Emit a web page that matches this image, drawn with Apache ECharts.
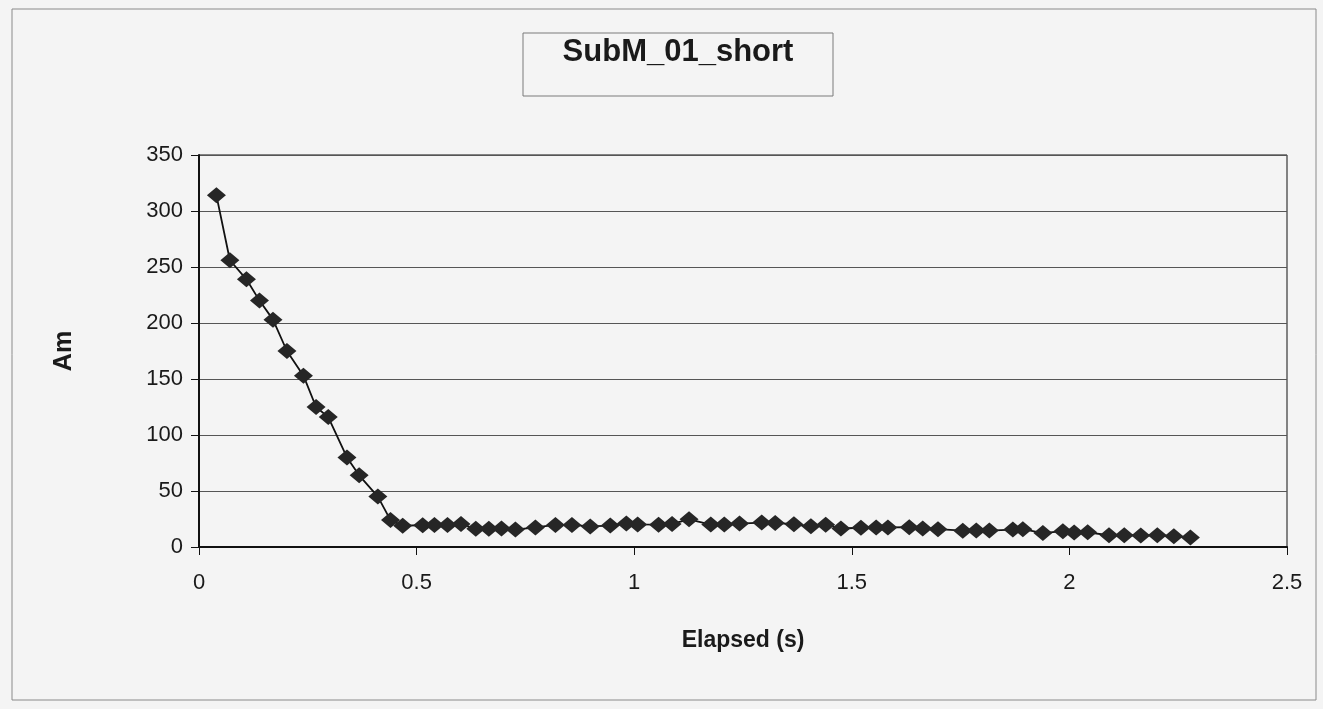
<!DOCTYPE html>
<html>
<head>
<meta charset="utf-8" />
<title>SubM_01_short</title>
<script src="https://cdn.jsdelivr.net/npm/echarts@6/dist/echarts.min.js"></script>
<style>
  html, body { margin: 0; padding: 0; background: #f4f4f4; }
  #chart { width: 1323px; height: 709px; }
</style>
</head>
<body>
<div id="chart"></div>
<script>
// values
var elapsed = [0.040, 0.071, 0.109, 0.139, 0.170, 0.202, 0.240, 0.269, 0.297, 0.340, 0.368, 0.411, 0.440, 0.468,
  0.514, 0.541, 0.571, 0.602, 0.636, 0.666, 0.695, 0.727, 0.773, 0.819, 0.857, 0.899, 0.945,
  0.982, 1.008, 1.056, 1.087, 1.126, 1.176, 1.207, 1.242, 1.293, 1.324, 1.367, 1.406,
  1.440, 1.475, 1.521, 1.556, 1.583, 1.632, 1.663, 1.698, 1.755, 1.786, 1.816, 1.870,
  1.893, 1.939, 1.985, 2.011, 2.042, 2.091, 2.126, 2.164, 2.202, 2.240, 2.278];
var am = [314, 256, 239, 220, 203, 175, 153, 125, 116, 80, 64, 45, 24, 19,
  19.4, 19.6, 19.7, 20.5, 16.2, 16.3, 16.5, 15.6, 17.5, 19.7, 19.7, 18.4, 19.1,
  20.9, 20.2, 19.9, 20.6, 24.7, 20, 20.2, 20.9, 21.8, 21.5, 20.3, 18.5,
  19.9, 16.5, 17.2, 17.4, 17.5, 17.7, 16.6, 15.9, 14.6, 14.7, 14.7, 15.6,
  15.9, 12.4, 14.1, 13, 13.1, 10.5, 10.6, 10.3, 10.5, 9.7, 8.5];
var xTicks = [0, 0.5, 1, 1.5, 2, 2.5];
var yTicks = [0, 50, 100, 150, 200, 250, 300, 350];

var points = [];
for (var i = 0; i < elapsed.length; i++) {
  points.push([elapsed[i], am[i]]);
}

var font = 'Liberation Sans, Arial, sans-serif';
var chart = echarts.init(document.getElementById('chart'));
chart.setOption({
  animation: false,
  backgroundColor: '#f4f4f4',
  title: {
    text: 'SubM_01_short',
    left: 678,
    top: 37,
    padding: 0,
    textAlign: 'center',
    textStyle: { fontFamily: font, fontSize: 31, fontWeight: 'bold', color: '#1a1a1a' }
  },
  graphic: [
    { type: 'rect', shape: { x: 12, y: 9, width: 1304, height: 691 },
      style: { fill: null, stroke: '#8a8a8a', lineWidth: 1 } },
    { type: 'rect', shape: { x: 523, y: 33, width: 310, height: 63 },
      style: { fill: null, stroke: '#7a7a7a', lineWidth: 1 } }
  ],
  grid: {
    left: 199, right: 36, top: 155, bottom: 162,
    show: true, borderColor: '#111', borderWidth: 1
  },
  xAxis: {
    type: 'value',
    min: xTicks[0], max: xTicks[xTicks.length - 1], interval: 0.5,
    name: 'Elapsed (s)',
    nameLocation: 'middle',
    nameGap: 82,
    nameTextStyle: { fontFamily: font, fontSize: 23, fontWeight: 'bold', color: '#1a1a1a' },
    axisLine: { show: true, lineStyle: { color: '#111', width: 2 } },
    axisTick: { show: true, inside: false, length: 8, lineStyle: { color: '#111' } },
    axisLabel: { margin: 25, fontFamily: font, fontSize: 22, color: '#1a1a1a' },
    splitLine: { show: false }
  },
  yAxis: {
    type: 'value',
    min: yTicks[0], max: yTicks[yTicks.length - 1], interval: 50,
    name: 'Am',
    nameLocation: 'middle',
    nameRotate: 90,
    nameGap: 122,
    nameTextStyle: { fontFamily: font, fontSize: 25, fontWeight: 'bold', color: '#1a1a1a' },
    axisLine: { show: true, lineStyle: { color: '#111', width: 2 } },
    axisTick: { show: true, inside: false, length: 8, lineStyle: { color: '#111' } },
    axisLabel: { margin: 16, fontFamily: font, fontSize: 22, color: '#1a1a1a' },
    splitLine: { show: true, lineStyle: { color: '#555', width: 1 } }
  },
  series: [{
    type: 'line',
    data: points,
    symbol: 'diamond',
    symbolSize: [19, 16],
    itemStyle: { color: '#262626' },
    lineStyle: { color: '#111', width: 1.8 }
  }]
});
</script>
</body>
</html>
